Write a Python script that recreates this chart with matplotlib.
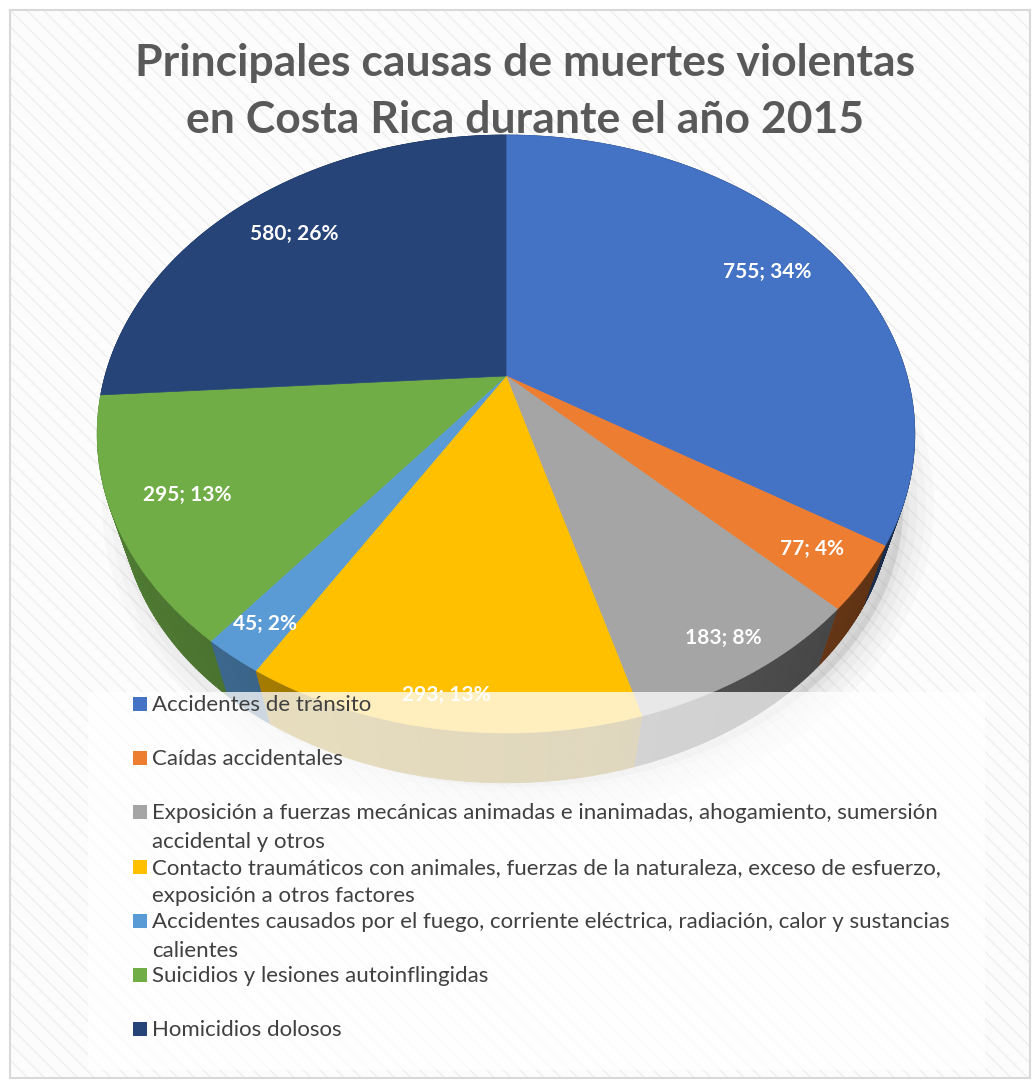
import numpy as np
import matplotlib
matplotlib.use("Agg")
import matplotlib.pyplot as plt
from matplotlib.patches import Polygon, Rectangle

# Data
categories = [
    "Accidentes de tránsito",
    "Caídas accidentales",
    "Exposición a fuerzas mecánicas animadas e inanimadas, ahogamiento, sumersión\naccidental y otros",
    "Contacto traumáticos con animales, fuerzas de la naturaleza, exceso de esfuerzo,\nexposición a otros factores",
    "Accidentes causados por el fuego, corriente eléctrica, radiación, calor y sustancias\ncalientes",
    "Suicidios y lesiones autoinflingidas",
    "Homicidios dolosos",
]
values = [755, 77, 183, 293, 45, 295, 580]
percents = [34, 4, 8, 13, 2, 13, 26]
colors = ["#4472C4", "#ED7D31", "#A5A5A5", "#FFC000", "#5B9BD5", "#70AD47", "#264478"]

# label placement (fraction of radius) per slice
label_r = [0.8, 0.87, 0.9, 0.92, 0.9, 0.83, 0.8]

W, H = 1032, 1081
fig = plt.figure(figsize=(W / 100, H / 100), dpi=100)
ax = fig.add_axes([0, 0, 1, 1])
ax.set_xlim(0, W)
ax.set_ylim(H, 0)
ax.axis("off")

# background with light diagonal stripes
plt.rcParams["hatch.linewidth"] = 1.0
ax.add_patch(Rectangle((10, 10), 1020, 1068, facecolor="#fcfcfc", edgecolor="#eeeeee",
                       hatch="\\\\", linewidth=0, zorder=0))
ax.add_patch(Rectangle((10, 10), 1020, 1068, facecolor="none", edgecolor="#d9d9d9",
                       linewidth=1.5, zorder=0.5))

# perspective projection of the pie disc
cx, cy = 506, 376
S, Sc, k = 401, 287.7, 0.194
m, vy = 0.9426, 1601   # bottom rim: scaled towards a vanishing point below


def proj(phi, r=1.0):
    x = r * np.sin(phi)
    yd = -r * np.cos(phi)
    den = 1 - k * yd
    return cx + S * x / den, cy + Sc * yd / den


def proj_bottom(phi):
    x, y = proj(phi)
    return cx + (x - cx) * m, vy + (y - vy) * m


total = sum(values)
bounds = np.concatenate([[0], np.cumsum(values)]) / total * 2 * np.pi

# soft shadow
phis = np.linspace(0, 2 * np.pi, 361)
bx, by = proj_bottom(phis)
sil_bot = np.column_stack([bx, by])
for lw, a in [(44, 0.03), (32, 0.035), (20, 0.045), (8, 0.06)]:
    ax.add_patch(Polygon(sil_bot + [12, 4], closed=True, facecolor="#707070",
                         edgecolor="#707070", linewidth=lw, alpha=a, zorder=1,
                         joinstyle="round"))

# side walls, drawn back to front
quads = []
for i, col in enumerate(colors):
    a0, a1 = bounds[i], bounds[i + 1]
    ps = np.linspace(a0, a1, max(3, int((a1 - a0) / 0.01)))
    rgb = np.array(matplotlib.colors.to_rgb(col))
    for p0, p1 in zip(ps[:-1], ps[1:]):
        x0, y0 = proj(p0)
        x1, y1 = proj(p1)
        xb0, yb0 = proj_bottom(p0)
        xb1, yb1 = proj_bottom(p1)
        pm = (p0 + p1) / 2
        f = 0.55 - 0.18 * np.sin(pm)
        quads.append((-np.cos(pm), [(x0, y0), (x1, y1), (xb1, yb1), (xb0, yb0)], rgb * f))
quads.sort(key=lambda q: q[0])
for _, quad, c in quads:
    ax.add_patch(Polygon(quad, closed=True, facecolor=c, edgecolor=c,
                         linewidth=0.6, zorder=2))

# top face
for i, col in enumerate(colors):
    ps = np.linspace(bounds[i], bounds[i + 1], max(3, int((bounds[i + 1] - bounds[i]) / 0.005)))
    xs, ys = proj(ps)
    pts = [(cx, cy)] + list(zip(xs, ys))
    ax.add_patch(Polygon(pts, closed=True, facecolor=col, edgecolor=col,
                         linewidth=0.5, zorder=3))

# data labels
for i, (v, p) in enumerate(zip(values, percents)):
    mid = (bounds[i] + bounds[i + 1]) / 2
    lx, ly = proj(mid, label_r[i])
    ax.text(lx, ly, f"{v}; {p}%", color="white", fontsize=15, fontweight="bold",
            family="Lato", ha="center", va="center", zorder=4)

# title
ax.text(525, 63, "Principales causas de muertes violentas", ha="center", va="center",
        fontsize=32, fontweight="bold", color="#595959", family="Lato", zorder=6)
ax.text(525, 120, "en Costa Rica durante el año 2015", ha="center", va="center",
        fontsize=32, fontweight="bold", color="#595959", family="Lato", zorder=6)

# legend
ax.add_patch(Rectangle((88, 692), 897, 378, facecolor="white", edgecolor="none",
                       alpha=0.75, zorder=5))
ly0, step = 704, 54.2
for i, (name, col) in enumerate(zip(categories, colors)):
    y = ly0 + i * step
    ax.add_patch(Rectangle((133, y - 7), 14, 14, facecolor=col, edgecolor="none", zorder=6))
    ax.text(152, y - 9, name, ha="left", va="top", fontsize=16, color="#404040",
            family="Lato", linespacing=1.55, zorder=6)

fig.savefig("out.png", dpi=100)
